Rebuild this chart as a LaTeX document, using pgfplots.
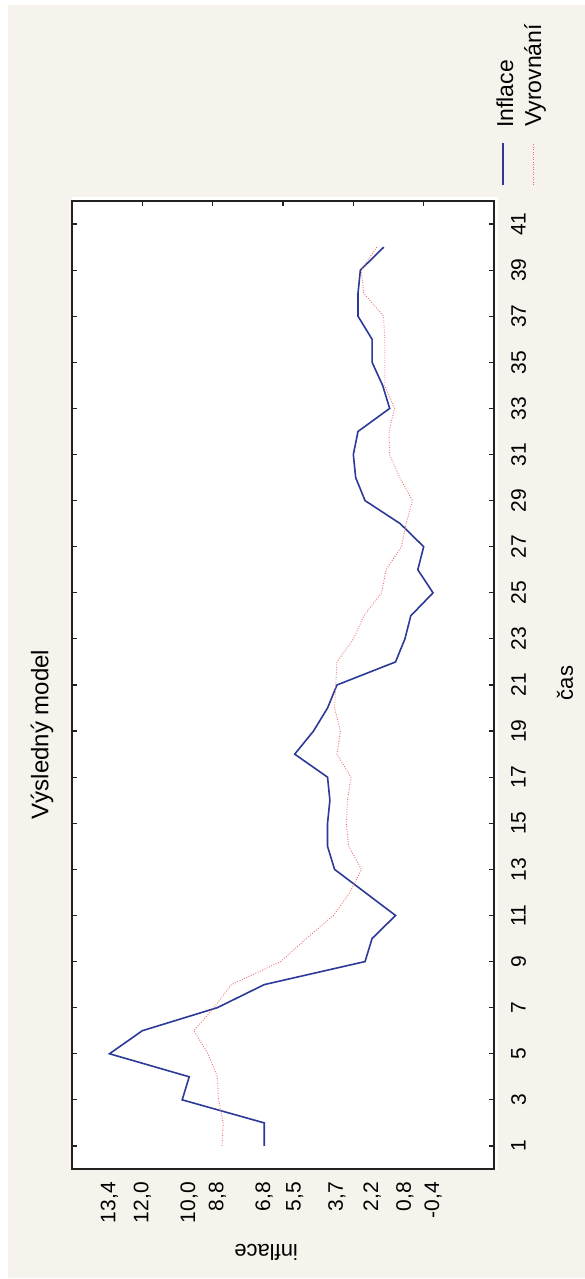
\documentclass[border=0pt]{standalone}
\usepackage{fontspec}
\setmainfont{Liberation Sans}
\usepackage{pgfplots}
\usepackage{pgfplotstable}
\pgfplotsset{compat=1.18}
\definecolor{bg}{HTML}{F6F3EC}
\definecolor{blueline}{HTML}{2B3A98}
\definecolor{redline}{HTML}{F26B6B}
\definecolor{axcol}{HTML}{222222}
\pgfplotstableread{
t v
1 6.8
2 6.8
3 10.3
4 10.0
5 13.4
6 12.0
7 8.8
8 6.8
9 2.5
10 2.2
11 1.2
12 2.5
13 3.8
14 4.1
15 4.1
16 4.0
17 4.1
18 5.5
19 4.7
20 4.1
21 3.7
22 1.2
23 0.8
24 0.55
25 -0.4
26 0.25
27 0.0
28 1.0
29 2.5
30 2.9
31 3.0
32 2.8
33 1.45
34 1.75
35 2.2
36 2.2
37 2.8
38 2.8
39 2.7
40 1.7
}\inflace
\pgfplotstableread{
t v
1 8.6
2 8.55
3 8.75
4 8.8
5 9.2
6 9.8
7 8.95
8 8.2
9 6.1
10 5.0
11 3.85
12 3.15
13 2.65
14 3.2
15 3.3
16 3.25
17 3.1
18 3.7
19 3.55
20 3.8
21 3.75
22 3.7
23 3.0
24 2.55
25 1.8
26 1.6
27 0.95
28 0.75
29 0.48
30 1.02
31 1.45
32 1.48
33 1.24
34 1.66
35 1.66
36 1.66
37 1.71
38 2.56
39 2.66
40 2.0
}\vyrovnani
\begin{document}
\begin{tikzpicture}[x=1pt,y=1pt]
\useasboundingbox (0,0) rectangle (585,1279);
\fill[white] (0,0) rectangle (585,1279);
\fill[bg] (8,1) rectangle (585,1274);
\fill[white] (72,109) rectangle (498,1082);
\begin{axis}[
  at={(72pt,110pt)}, anchor=south west,
  scale only axis, width=422pt, height=968pt,
  xmin=-3, xmax=15, x dir=reverse,
  ymin=0, ymax=42,
  axis line style={axcol, line width=1.4pt},
  tick style={axcol, line width=1.2pt},
  tick align=inside,
  major tick length=5pt,
  ytick={1,3,...,41},
  ytick pos=both,
  yticklabel pos=right,
  yticklabel style={rotate=90, anchor=north, inner sep=0pt, font=\fontsize{21}{24}\selectfont},
  yticklabel shift=17pt,
  xtick={13.4,12.0,10.0,8.8,6.8,5.5,3.7,2.2,0.8,-0.4},
  xticklabels={{13,4},{12,0},{10,0},{8,8},{6,8},{5,5},{3,7},{2,2},{0,8},{-0,4}},
  xtick pos=left,
  xtick style={draw=none},
  xticklabel style={rotate=90, anchor=east, inner sep=0pt, font=\fontsize{21}{24}\selectfont},
  xticklabel shift=13pt,
  /pgf/number format/assume math mode=true,
  title={Výsledný model},
  every axis title/.style={at={(axis description cs:-0.071,0.449)}, anchor=center, rotate=90, font=\fontsize{24}{28}\selectfont},
  xlabel={inflace},
  every axis x label/.style={at={(axis description cs:0.46,-0.0857)}, anchor=center, rotate=180, font=\fontsize{22}{26}\selectfont},
  ylabel={čas},
  every axis y label/.style={at={(axis description cs:1.168,0.502)}, anchor=center, rotate=90, font=\fontsize{22}{26}\selectfont},
]
\addplot[blueline, line width=1.6pt, mark=none] table[x=v, y=t] {\inflace};
\addplot[redline, line width=0.9pt, dash pattern=on 0.9pt off 1.6pt, mark=none] table[x=v, y=t] {\vyrovnani};
\end{axis}
\begin{axis}[
  at={(72pt,110pt)}, anchor=south west,
  scale only axis, width=422pt, height=968pt,
  xmin=-3, xmax=15, x dir=reverse,
  ymin=0, ymax=42,
  axis line style={draw=none},
  tick style={axcol, line width=1.2pt},
  tick align=inside,
  major tick length=5pt,
  xtick={0,3,6,9,12},
  xtick pos=right,
  xticklabels={},
  ytick=\empty,
]
\end{axis}
% legend
\draw[blueline, line width=1.6pt] (503,1094) -- (503,1136);
\draw[redline, line width=0.9pt, dash pattern=on 0.9pt off 1.6pt] (533,1094) -- (533,1136);
\node[rotate=90, anchor=base west, inner sep=0pt, font=\fontsize{23}{26}\selectfont] at (513,1151) {Inflace};
\node[rotate=90, anchor=base west, inner sep=0pt, font=\fontsize{23}{26}\selectfont] at (541,1152) {Vyrovnání};
\end{tikzpicture}
\end{document}
